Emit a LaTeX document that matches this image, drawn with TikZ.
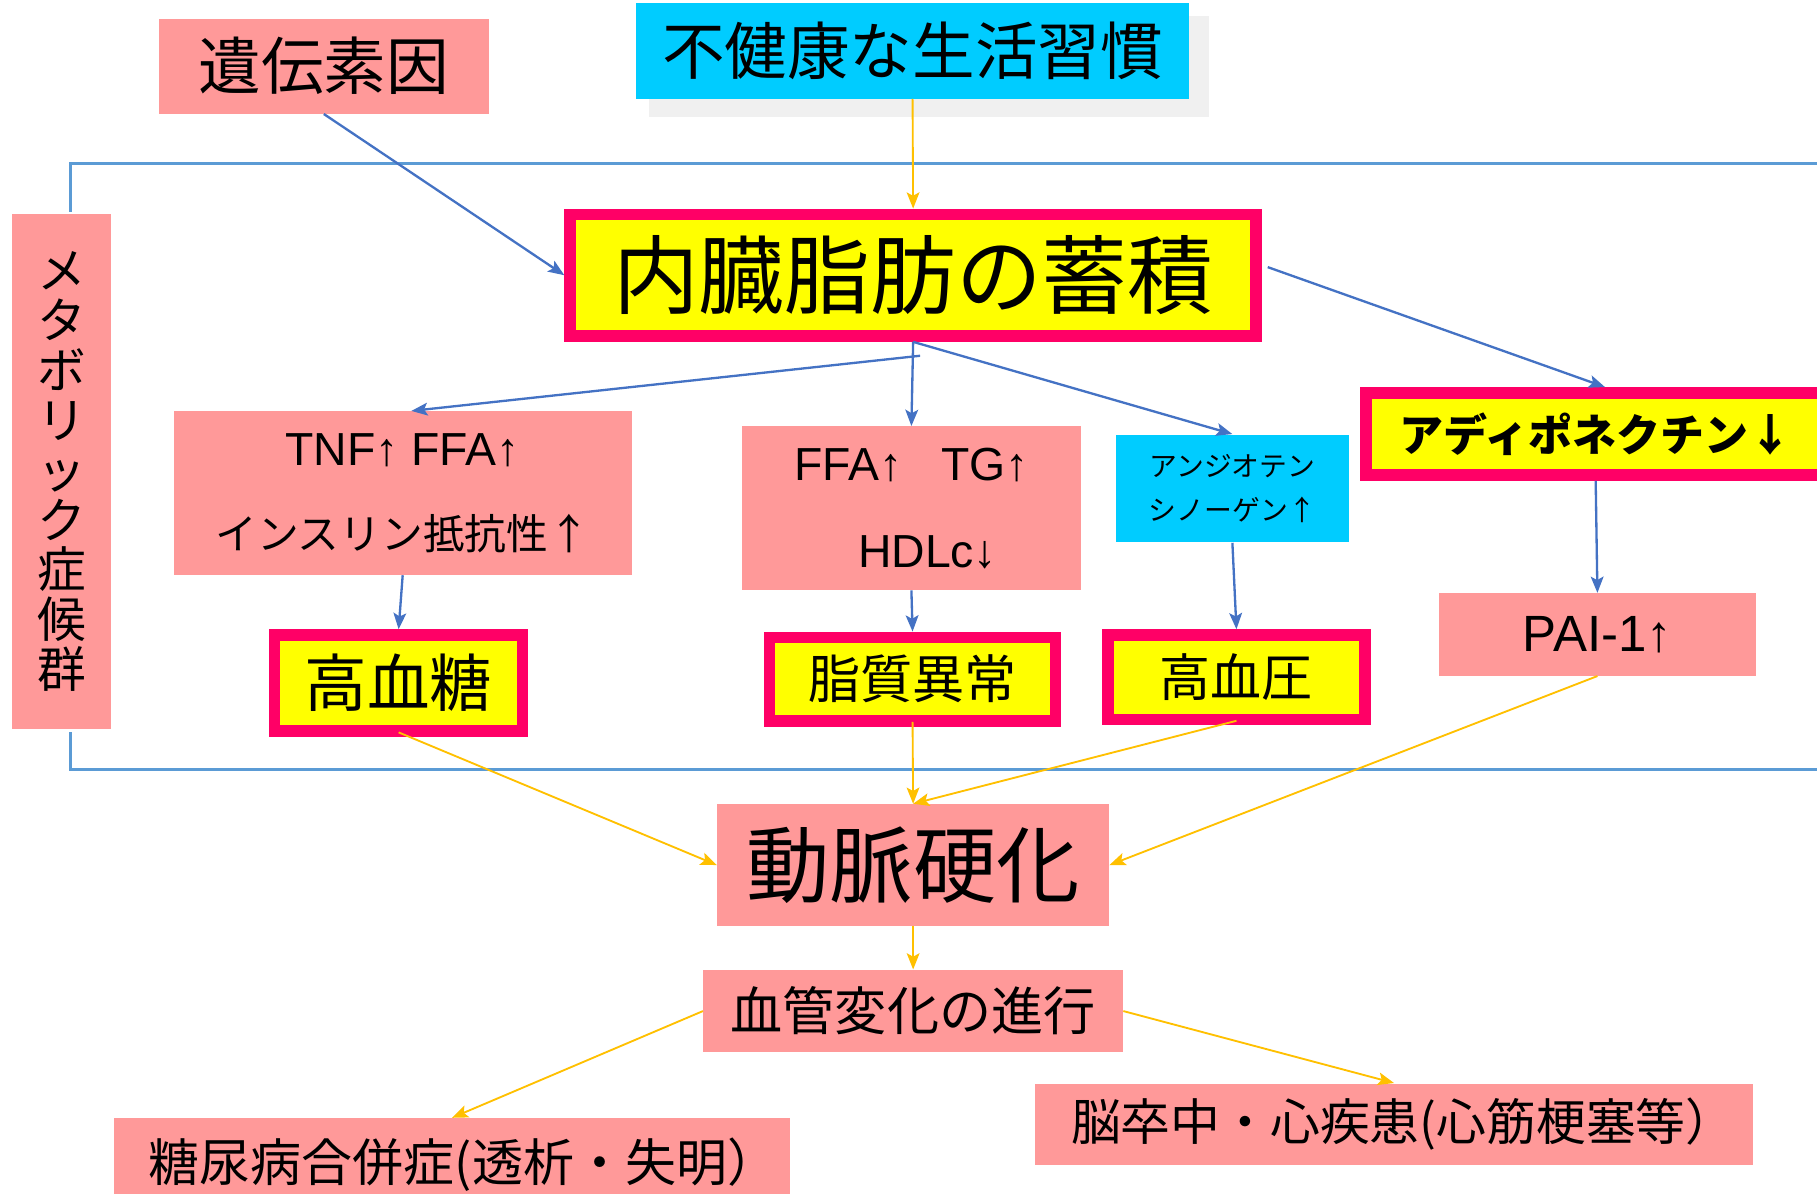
\documentclass[tikz,border=0pt]{standalone}
\usepackage{fontspec}
\setmainfont{Noto Sans CJK JP}
\newfontfamily\lat{Liberation Sans}
\usetikzlibrary{arrows.meta,calc}
\definecolor{pinkbox}{HTML}{FF9999}
\definecolor{cyanbox}{HTML}{00CCFF}
\definecolor{magbox}{HTML}{FF0066}
\definecolor{yelbox}{HTML}{FFFF00}
\definecolor{arrowblue}{HTML}{4472C4}
\definecolor{frameblue}{HTML}{5B9BD5}
\definecolor{arroworange}{HTML}{FFC000}
\definecolor{shadowgray}{HTML}{F0F0F0}
\tikzset{
  pinkbox/.style={fill=pinkbox, draw=none, inner sep=0pt, align=center},
  cyanbox/.style={fill=cyanbox, draw=none, inner sep=0pt, align=center},
  hibox/.style={fill=yelbox, draw=magbox, line width=5pt, inner sep=0pt, align=center},
  barrow/.style={draw=arrowblue, line width=1pt, -{Stealth[length=7pt,width=5.5pt,inset=1.5pt]}},
  oarrow/.style={draw=arroworange, line width=0.8pt, -{Stealth[length=7pt,width=5.5pt,inset=1.5pt]}},
}
\begin{document}
\begin{tikzpicture}[x=0.5pt,y=-0.5pt]
\useasboundingbox (0,0) rectangle (1568,1030);
\clip (0,0) rectangle (1568,1030);
\fill[white] (0,0) rectangle (1568,1030);

% frame of the metabolic syndrome
\draw[frameblue, line width=1.25pt] (1600,141) -| (61,183);
\draw[frameblue, line width=1.25pt] (61,632) |- (1600,664);

% shadow
\fill[shadowgray] (560,14) rectangle (1043,101);

\node[pinkbox, minimum width=142.5pt, minimum height=41pt, font=\fontsize{27}{30}\selectfont] (iden) at (279.5,57) {遺伝素因};
\node[cyanbox, minimum width=238.5pt, minimum height=41pt, font=\fontsize{27}{30}\selectfont] (fuken) at (787.5,44) {不健康な生活習慣};

\node[pinkbox, minimum width=43pt, minimum height=222pt, font=\fontsize{21}{21.5}\selectfont] (metabo) at (53,407) {メ\\タ\\ボ\\リ\\ッ\\ク\\症\\候\\群};

\node[hibox, minimum width=296pt, minimum height=52.5pt, font=\fontsize{37}{42}\selectfont] (naizo) at (788,237.5) {内臓脂肪の蓄積};

\node[pinkbox, minimum width=197.5pt, minimum height=70.5pt, font=\fontsize{18}{36.5}\selectfont] (tnf) at (347.5,425.5)
  {{\lat\fontsize{20}{36.5}\selectfont TNF↑ FFA↑}\\インスリン抵抗性↑};
\node[pinkbox, minimum width=146.5pt, minimum height=70.5pt, font=\lat\fontsize{20}{37.5}\selectfont] (ffa) at (786.5,438.5)
  {FFA↑\ \ \ TG↑\\\hspace{14pt}HDLc↓};
\node[cyanbox, minimum width=100.5pt, minimum height=46.5pt, font=\fontsize{12}{19}\selectfont] (angio) at (1063.5,421.5)
  {アンジオテン\\シノーゲン↑};
\node[hibox, minimum width=198pt, minimum height=35.5pt, font=\bfseries\fontsize{19}{22}\selectfont] (adipo) at (1377,374.5) {アディポネクチン↓};
\node[pinkbox, minimum width=136.5pt, minimum height=35.5pt, font=\lat\fontsize{22}{26}\selectfont] (pai) at (1378.5,547.5) {PAI-1↑};

\node[hibox, minimum width=107pt, minimum height=41.5pt, font=\fontsize{27}{30}\selectfont] (kotoketsu) at (344,589.5) {高血糖};
\node[hibox, minimum width=123.5pt, minimum height=36pt, font=\fontsize{22.5}{26}\selectfont] (shishitsu) at (787.5,586) {脂質異常};
\node[hibox, minimum width=111pt, minimum height=36.5pt, font=\fontsize{22}{26}\selectfont] (koketsuatsu) at (1067,584.5) {高血圧};

\node[pinkbox, minimum width=169pt, minimum height=52.5pt, font=\fontsize{36}{40}\selectfont] (doumyaku) at (788,746.5) {動脈硬化};
\node[pinkbox, minimum width=181pt, minimum height=35.5pt, font=\fontsize{22.5}{26}\selectfont] (kekkan) at (788,872.5) {血管変化の進行};
\node[pinkbox, minimum width=292pt, minimum height=40pt, font=\fontsize{22}{26}\selectfont] (tonyo) at (390,1005) {\hspace{10pt}\raisebox{2.5pt}{糖尿病合併症(透析・失明）}};
\node[pinkbox, minimum width=310pt, minimum height=35pt, font=\fontsize{21.5}{26}\selectfont] (nou) at (1203,970) {\hspace{8pt}脳卒中・心疾患(心筋梗塞等）};

% blue connectors
\draw[barrow] (iden.south) -- (naizo.west);
\draw[barrow] ($(naizo.east)+(5,-7)$) -- ($(adipo.north)+(8,0)$);
\draw[barrow] ($(naizo.south)+(6,12)$) -- ($(tnf.north)+(7.5,0)$);
\draw[barrow] (naizo.south) -- (ffa.north);
\draw[barrow] (naizo.south) -- (angio.north);
\draw[barrow] (tnf.south) -- (kotoketsu.north);
\draw[barrow] (ffa.south) -- (shishitsu.north);
\draw[barrow] (angio.south) -- (koketsuatsu.north);
\draw[barrow] (adipo.south) -- (pai.north);

% orange connectors
\draw[oarrow] (fuken.south) -- (naizo.north);
\draw[oarrow] ($(kotoketsu.south)+(0,-4)$) -- (doumyaku.west);
\draw[oarrow] ($(shishitsu.south)+(0,-4)$) -- (doumyaku.north);
\draw[oarrow] ($(koketsuatsu.south)+(0,-4)$) -- (doumyaku.north);
\draw[oarrow] (pai.south) -- (doumyaku.east);
\draw[oarrow] (doumyaku.south) -- (kekkan.north);
\draw[oarrow] (kekkan.west) -- (tonyo.north);
\draw[oarrow] (kekkan.east) -- (nou.north);
\end{tikzpicture}
\end{document}
